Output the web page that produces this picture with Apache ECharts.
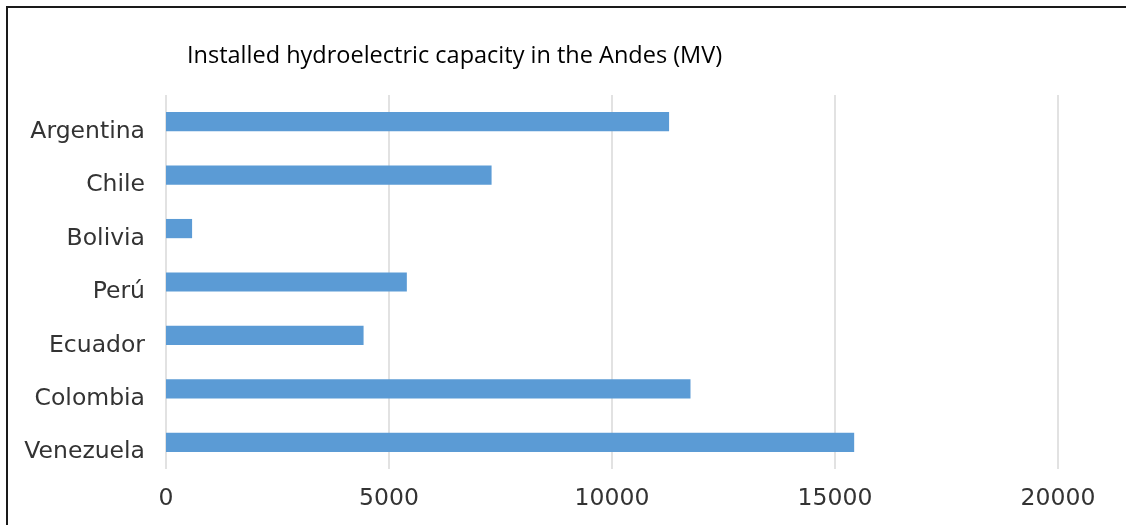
<!DOCTYPE html>
<html>
<head>
<meta charset="utf-8">
<script src="https://cdn.jsdelivr.net/npm/echarts@6/dist/echarts.min.js"></script>
<style>
  html, body { margin: 0; padding: 0; background: #ffffff; }
  #chart { width: 1126px; height: 525px; }
</style>
</head>
<body>
<div id="chart"></div>
<script>
// Installed hydroelectric capacity per Andean country (MW)
const countries = ['Argentina', 'Chile', 'Bolivia', 'Perú', 'Ecuador', 'Colombia', 'Venezuela'];
const capacity = [11280, 7300, 585, 5400, 4430, 11760, 15430];
const axisMax = 20000;
const axisStep = 5000;

const chart = echarts.init(document.getElementById('chart'), null, { renderer: 'canvas' });

const labelFont = 'Tahoma, "DejaVu Sans", Verdana, sans-serif';

chart.setOption({
  animation: false,
  backgroundColor: '#ffffff',
  title: {
    text: 'Installed hydroelectric capacity in the Andes (MV)',
    left: 187,
    top: 44,
    padding: 0,
    textStyle: {
      fontFamily: '"Open Sans", sans-serif',
      fontSize: 23.5,
      fontWeight: 'normal',
      color: '#000000'
    }
  },
  graphic: [
    {
      type: 'polyline',
      shape: { points: [[7, 525], [7, 7], [1126, 7]] },
      style: { stroke: '#1a1a1a', lineWidth: 2, fill: null },
      silent: true
    }
  ],
  grid: { left: 166, right: 68, top: 95, bottom: 56, containLabel: false },
  xAxis: {
    type: 'value',
    min: 0,
    max: axisMax,
    interval: axisStep,
    axisLine: { show: false },
    axisTick: { show: false },
    splitLine: { show: true, lineStyle: { color: '#d9d9d9', width: 1.5 } },
    axisLabel: {
      margin: 18,
      fontFamily: labelFont,
      fontSize: 23.5,
      color: '#333333',
      formatter: (v) => String(v)
    }
  },
  yAxis: {
    type: 'category',
    data: countries,
    inverse: true,
    axisLine: { show: false },
    axisTick: { show: false },
    axisLabel: {
      margin: 21,
      verticalAlign: 'top',
      lineHeight: 20,
      fontFamily: labelFont,
      fontSize: 23.5,
      color: '#333333'
    }
  },
  series: [
    {
      type: 'bar',
      data: capacity,
      barCategoryGap: '64%',
      itemStyle: { color: '#5b9bd5' }
    }
  ]
});
</script>
</body>
</html>
